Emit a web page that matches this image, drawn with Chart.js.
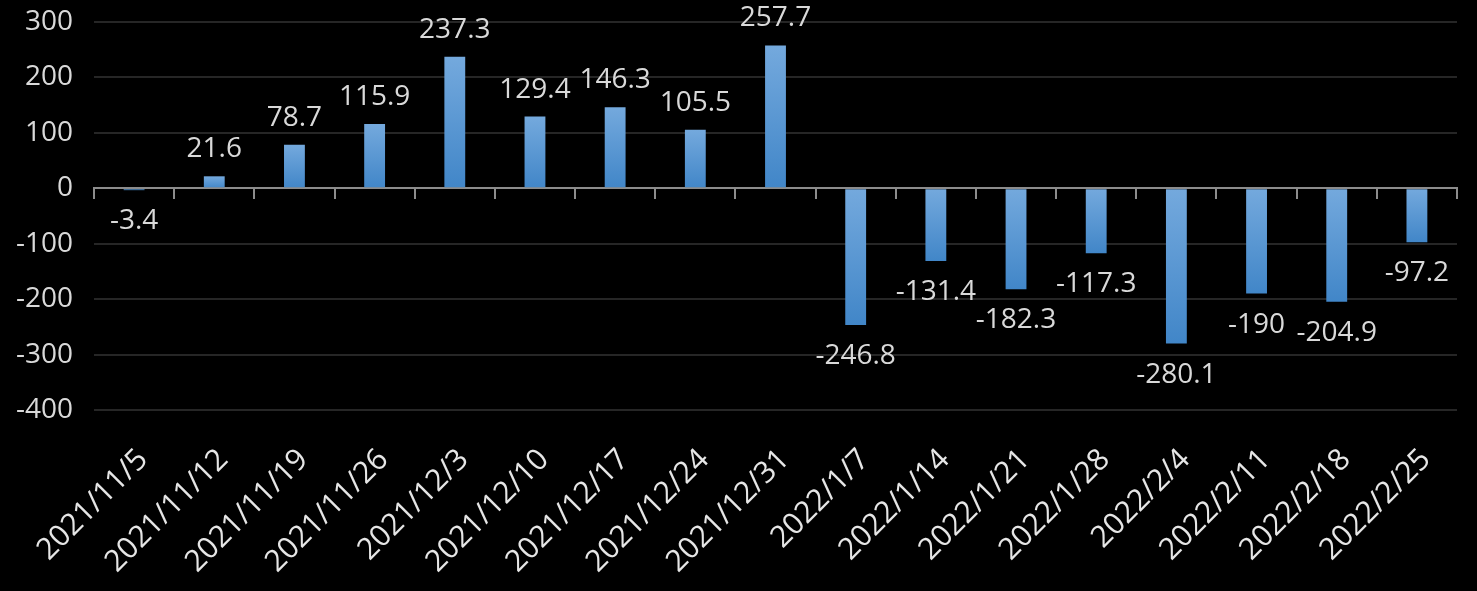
<!DOCTYPE html>
<html>
<head>
<meta charset="utf-8">
<script src="https://cdn.jsdelivr.net/npm/chart.js@4/dist/chart.umd.min.js"></script>
<style>
  html, body { margin: 0; padding: 0; background: #000; }
  canvas { display: block; }
</style>
</head>
<body>
<canvas id="chart" width="1477" height="591"></canvas>
<script>
const categories = [
  "2021/11/5", "2021/11/12", "2021/11/19", "2021/11/26", "2021/12/3",
  "2021/12/10", "2021/12/17", "2021/12/24", "2021/12/31", "2022/1/7",
  "2022/1/14", "2022/1/21", "2022/1/28", "2022/2/4", "2022/2/11",
  "2022/2/18", "2022/2/25"
];
const values = [
  -3.4, 21.6, 78.7, 115.9, 237.3, 129.4, 146.3, 105.5, 257.7,
  -246.8, -131.4, -182.3, -117.3, -280.1, -190, -204.9, -97.2
];
const yMin = -400;
const yMax = 300;
const yStep = 100;

const textColor = "#d9d9d9";
const fontFamily = "'Open Sans', 'Noto Sans', sans-serif";

// gradient for each bar, light at the top, darker at the bottom
function barFill(context) {
  const chart = context.chart;
  const { ctx, chartArea, scales } = chart;
  if (!chartArea || !scales.y) return "#5b9bd5";
  const v = values[context.dataIndex];
  const yZero = scales.y.getPixelForValue(0);
  const yVal = scales.y.getPixelForValue(v);
  const top = Math.min(yZero, yVal);
  const bottom = Math.max(yZero, yVal);
  const g = ctx.createLinearGradient(0, top, 0, bottom + 0.01);
  g.addColorStop(0, "#74a9dd");
  g.addColorStop(1, "#4186c8");
  return g;
}

const valueLabels = {
  id: "valueLabels",
  afterDatasetsDraw(chart) {
    const ctx = chart.ctx;
    const meta = chart.getDatasetMeta(0);
    ctx.save();
    ctx.font = "28px " + fontFamily;
    ctx.fillStyle = textColor;
    ctx.textAlign = "center";
    ctx.textBaseline = "alphabetic";
    meta.data.forEach((bar, i) => {
      const v = values[i];
      const y = v >= 0 ? bar.y - 19 : bar.y + 39;
      ctx.fillText(String(v), bar.x, y);
    });
    ctx.restore();
  }
};

new Chart(document.getElementById("chart"), {
  type: "bar",
  data: {
    labels: categories,
    datasets: [{
      data: values,
      backgroundColor: barFill,
      borderWidth: 0,
      barPercentage: 0.26,
      categoryPercentage: 1
    }]
  },
  options: {
    responsive: false,
    animation: false,
    layout: { padding: { top: 22, right: 20, left: 0, bottom: 0 } },
    plugins: {
      legend: { display: false },
      tooltip: { enabled: false }
    },
    scales: {
      x: {
        position: "bottom",
        grid: { display: false },
        border: { display: false },
        ticks: {
          color: "#e6e6e6",
          font: { size: 30, family: fontFamily },
          minRotation: 45,
          maxRotation: 45,
          autoSkip: false,
          padding: 24,
          labelOffset: 9
        },
        afterFit(scale) { scale.height = 181; }
      },
      x2: {
        type: "category",
        labels: categories,
        position: { y: 0 },
        offset: true,
        grid: {
          offset: true,
          drawOnChartArea: false,
          drawTicks: true,
          tickLength: 10,
          color: "#8c8c8c",
          lineWidth: 2
        },
        border: { display: true, color: "#8c8c8c", width: 2 },
        ticks: { display: false }
      },
      y: {
        min: yMin,
        max: yMax,
        ticks: {
          stepSize: yStep,
          color: textColor,
          font: { size: 28, family: fontFamily },
          padding: 3
        },
        grid: {
          color: (c) => c.tick && c.tick.value === 0 ? "rgba(0,0,0,0)" : "#262626",
          lineWidth: 2,
          drawTicks: true,
          tickLength: 18,
          tickColor: "rgba(0,0,0,0)"
        },
        border: { display: false },
        afterFit(scale) { scale.width = 94; }
      }
    }
  },
  plugins: [valueLabels]
});
</script>
</body>
</html>
